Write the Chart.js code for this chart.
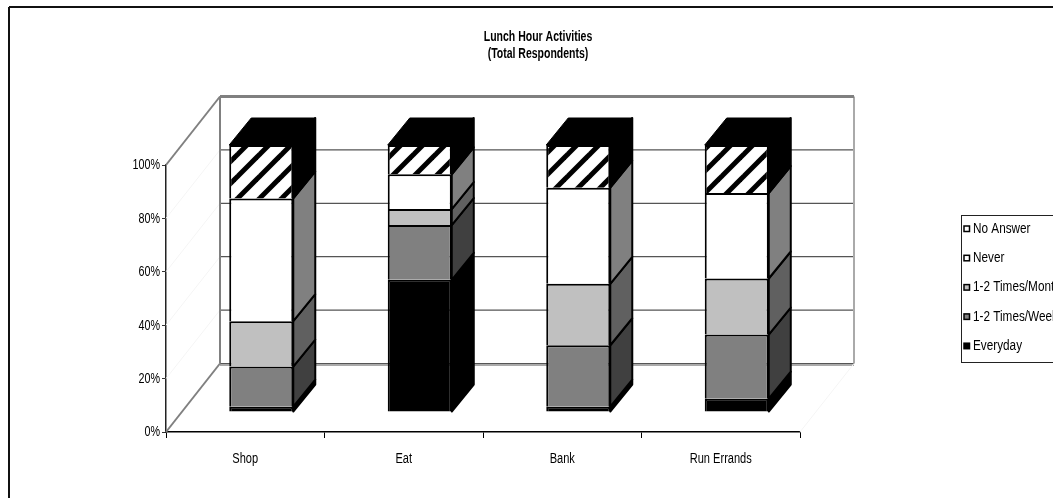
<!DOCTYPE html>
<html>
<head>
<meta charset="utf-8">
<title>Lunch Hour Activities</title>
<style>
    html, body { margin: 0; padding: 0; background: #fff; overflow: hidden; }
    canvas { display: block; }
</style>
<script src="https://cdn.jsdelivr.net/npm/chart.js@4"></script>
</head>
<body>
<canvas id="lunchChart" width="1053" height="498"></canvas>
<script>
const categories = ['Shop', 'Eat', 'Bank', 'Run Errands'];
const everyday = [2, 49.5, 2, 5];
const timesPerWeek = [15, 20.5, 23, 24];
const timesPerMonth = [17, 6, 23, 21];
const never = [46, 13, 36, 32];
const noAnswer = [20, 11, 16, 18];
const titleLines = ['Lunch Hour Activities', '(Total Respondents)'];

const FONT = '"Liberation Sans", sans-serif';

// Wall sits behind the front axes, bars stand between the two
const WALL = { dx: 54, dy: -68.5 };
const BAR = { dx: 16, dy: -20, depthX: 22, depthY: -27 };

// Diagonal stripes for the "No Answer" segment
function makeHatch() {
    const size = 22;
    const tile = document.createElement('canvas');
    tile.width = size;
    tile.height = size;
    const c = tile.getContext('2d');
    c.fillStyle = '#fff';
    c.fillRect(0, 0, size, size);
    c.strokeStyle = '#000';
    c.lineWidth = 5;
    [0, size, size * 2].forEach(end => {
        c.beginPath();
        c.moveTo(end - size - 4, size + 4);
        c.lineTo(end + 4, -4);
        c.stroke();
    });
    return c.createPattern(tile, 'repeat');
}

function line(ctx, x1, y1, x2, y2, color, width) {
    ctx.strokeStyle = color;
    ctx.lineWidth = width;
    ctx.beginPath();
    ctx.moveTo(x1, y1);
    ctx.lineTo(x2, y2);
    ctx.stroke();
}

function polygon(ctx, points, fill, stroke, width) {
    ctx.beginPath();
    points.forEach(([x, y], i) => i ? ctx.lineTo(x, y) : ctx.moveTo(x, y));
    ctx.closePath();
    ctx.fillStyle = fill;
    ctx.fill();
    ctx.strokeStyle = stroke;
    ctx.lineWidth = width;
    ctx.lineJoin = 'round';
    ctx.stroke();
}

// No condensed face is installed, so squeeze the regular one sideways
function narrowText(ctx, text, x, y, align, font, squeeze) {
    ctx.save();
    ctx.translate(x, y);
    ctx.scale(squeeze, 1);
    ctx.font = font;
    ctx.textAlign = align;
    ctx.textBaseline = 'middle';
    ctx.fillStyle = '#000';
    ctx.fillText(text, 0, 0);
    ctx.restore();
}

// Back wall, side wall and floor with their gridlines
const wallsPlugin = {
    id: 'walls',
    beforeDatasetsDraw(chart) {
        const { ctx, chartArea: a, scales: { y } } = chart;
        const left = a.left + WALL.dx;
        const right = a.right + WALL.dx;
        ctx.save();
        y.ticks.forEach(tick => {
            const py = y.getPixelForValue(tick.value);
            if (tick.value > 0 && tick.value < 100) {
                line(ctx, a.left, py, left, py + WALL.dy, '#f5f5f5', 1);
            }
            if (tick.value < 100) {
                line(ctx, left, py + WALL.dy, right, py + WALL.dy, '#555', 1.2);
            }
        });
        const top = y.getPixelForValue(100) + WALL.dy;
        const floor = y.getPixelForValue(0) + WALL.dy;
        line(ctx, left, floor + 1.5, right, floor + 1.5, '#aaa', 2);
        line(ctx, a.right, a.bottom, right, floor, '#f5f5f5', 1);
        line(ctx, right, top, right, floor, '#aaa', 2);
        line(ctx, left, top, left, floor, '#808080', 2);
        line(ctx, left, top, right, top, '#808080', 3);
        line(ctx, a.left, a.top, left, top, '#808080', 2);
        line(ctx, a.left, a.bottom, left, floor, '#808080', 2);
        ctx.restore();
    }
};

// Side and top faces of each bar, then shift the front faces onto the same plane
const depthPlugin = {
    id: 'depth',
    beforeDatasetsDraw(chart) {
        const ctx = chart.ctx;
        const count = chart.data.datasets.length;
        ctx.save();
        chart.data.datasets.forEach((dataset, i) => {
            chart.getDatasetMeta(i).data.forEach(bar => {
                const x = bar.x + bar.width / 2 + BAR.dx;
                const yTop = bar.y + BAR.dy;
                const yBase = bar.base + BAR.dy;
                polygon(ctx, [
                    [x, yBase],
                    [x + BAR.depthX, yBase + BAR.depthY],
                    [x + BAR.depthX, yTop + BAR.depthY],
                    [x, yTop]
                ], dataset.sideColor, '#000', 2);
                if (i === count - 1) {
                    const xLeft = bar.x - bar.width / 2 + BAR.dx;
                    polygon(ctx, [
                        [xLeft, yTop],
                        [xLeft + BAR.depthX, yTop + BAR.depthY],
                        [x + BAR.depthX, yTop + BAR.depthY],
                        [x, yTop]
                    ], '#000', '#000', 1);
                }
            });
        });
        ctx.restore();
        ctx.save();
        ctx.translate(BAR.dx, BAR.dy);
    },
    afterDatasetsDraw(chart) {
        chart.ctx.restore();
    }
};

// Outer frame, axis labels, title and the boxed legend running off the right edge
const framePlugin = {
    id: 'frame',
    afterDraw(chart) {
        const { ctx, scales: { x, y } } = chart;
        const tickFont = '14px ' + FONT;
        ctx.save();
        line(ctx, 9, 7, 1053, 7, '#111', 2);
        line(ctx, 9, 7, 9, 498, '#111', 2);

        titleLines.forEach((text, i) => {
            narrowText(ctx, text, 538, 37 + i * 17.5, 'center', 'bold 14px ' + FONT, 0.75);
        });
        x.ticks.forEach((tick, i) => {
            narrowText(ctx, tick.label, x.getPixelForTick(i), 459, 'center', tickFont, 0.79);
        });
        y.ticks.forEach((tick, i) => {
            narrowText(ctx, tick.label, 160, y.getPixelForTick(i) + 0.5, 'right', tickFont, 0.77);
        });

        ctx.strokeStyle = '#222';
        ctx.lineWidth = 1;
        ctx.strokeRect(961.5, 215.5, 120, 147);
        [...chart.data.datasets].reverse().forEach((dataset, i) => {
            const rowY = 229 + i * 29.3;
            ctx.fillStyle = i === 0 ? '#fff' : dataset.backgroundColor;
            ctx.strokeStyle = '#000';
            ctx.lineWidth = 1.5;
            ctx.fillRect(964, rowY - 3, 5.5, 5.5);
            ctx.strokeRect(964, rowY - 3, 5.5, 5.5);
            narrowText(ctx, dataset.label, 973, rowY, 'left', tickFont, 0.84);
        });
        ctx.restore();
    }
};

function makeDataset(label, data, color, sideColor) {
    return {
        label: label,
        data: data,
        backgroundColor: color,
        sideColor: sideColor,
        borderColor: '#000',
        borderWidth: 2,
        barPercentage: 0.404,
        categoryPercentage: 1,
        clip: false
    };
}

new Chart(document.getElementById('lunchChart').getContext('2d'), {
    type: 'bar',
    data: {
        labels: categories,
        datasets: [
            makeDataset('Everyday', everyday, '#000', '#000'),
            makeDataset('1-2 Times/Week', timesPerWeek, '#808080', '#404040'),
            makeDataset('1-2 Times/Month', timesPerMonth, '#c0c0c0', '#606060'),
            makeDataset('Never', never, '#fff', '#808080'),
            makeDataset('No Answer', noAnswer, makeHatch(), '#000')
        ]
    },
    options: {
        responsive: false,
        animation: false,
        events: [],
        layout: { padding: { top: 165, right: 253, bottom: 0, left: 0 } },
        plugins: { legend: { display: false }, title: { display: false }, tooltip: { enabled: false } },
        scales: {
            x: {
                stacked: true,
                afterFit(scale) { scale.height = 66; },
                border: { color: '#000', width: 1.5 },
                grid: { drawOnChartArea: false, tickLength: 6, color: '#000' },
                ticks: { display: false, maxRotation: 0 }
            },
            y: {
                stacked: true,
                min: 0,
                max: 100,
                afterFit(scale) { scale.width = 166; },
                border: { color: '#222', width: 1.5 },
                grid: { drawOnChartArea: false, tickLength: 4, color: '#333' },
                ticks: {
                    display: false,
                    stepSize: 20,
                    callback: value => value + '%'
                }
            }
        }
    },
    plugins: [wallsPlugin, depthPlugin, framePlugin]
});
</script>
</body>
</html>
